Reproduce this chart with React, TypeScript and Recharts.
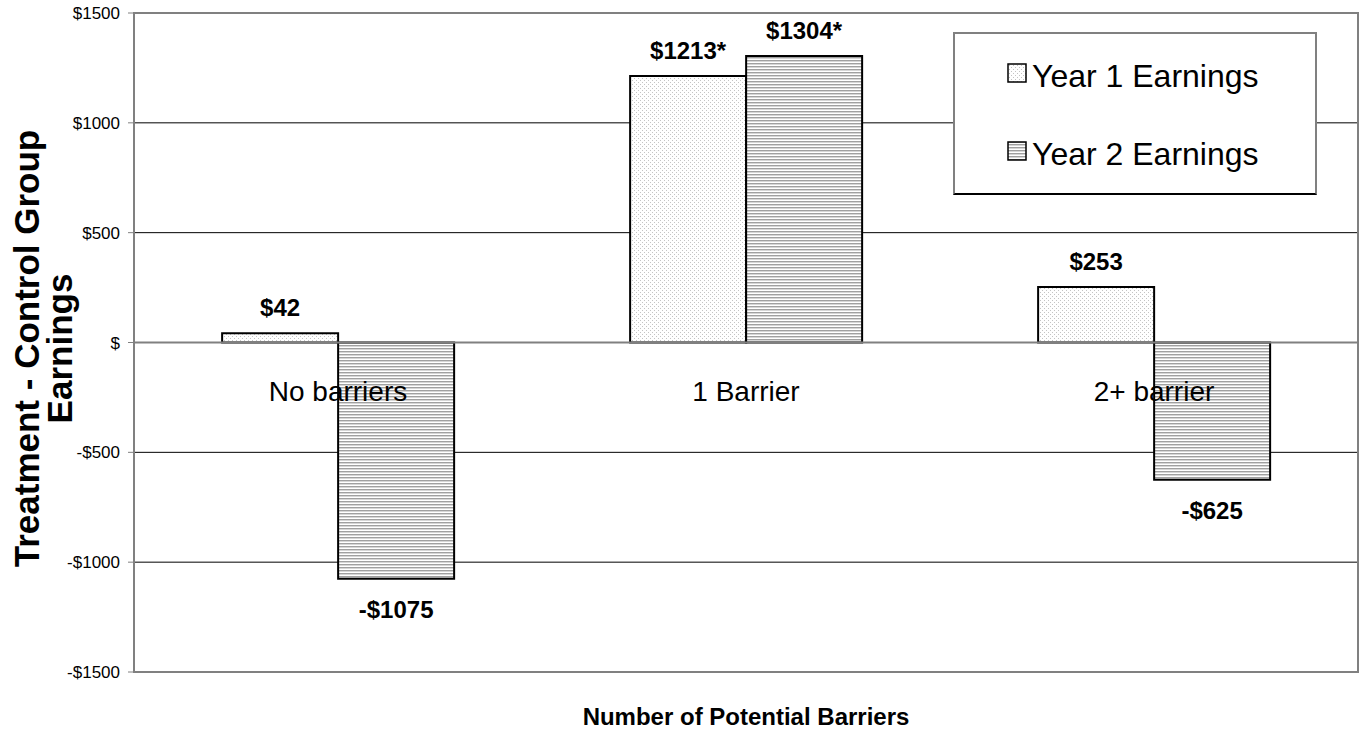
import {
  BarChart, Bar, XAxis, YAxis, CartesianGrid, ReferenceLine, ReferenceArea, ReferenceDot, LabelList,
} from 'recharts'

const categories = ['No barriers', '1 Barrier', '2+ barrier']
const year1Earnings = [42, 1213, 253]
const year2Earnings = [-1075, 1304, -625]
const year1Labels = ['$42', '$1213*', '$253']
const year2Labels = ['-$1075', '$1304*', '-$625']
const yTicks = [-1500, -1000, -500, 0, 500, 1000, 1500]
const yTickLabels = ['-$1500', '-$1000', '-$500', '$', '$500', '$1000', '$1500']
const seriesNames = ['Year 1 Earnings', 'Year 2 Earnings']

const FONT = "'Liberation Sans', Arial, Helvetica, sans-serif"

const data = categories.map((c, i) => ({
  category: c,
  y1: year1Earnings[i],
  y2: year2Earnings[i],
  l1: year1Labels[i],
  l2: year2Labels[i],
}))

function BarValueLabel(props: any) {
  const vb = props.viewBox ?? props
  const { x, y, width, height } = vb
  const top = Math.min(y, y + height)
  const bottom = Math.max(y, y + height)
  const negative = String(props.value).startsWith('-')
  return (
    <text
      x={x + width / 2}
      y={negative ? bottom + 39 : top - 17}
      textAnchor="middle"
      fontFamily={FONT}
      fontSize={24}
      fontWeight="bold"
      fill="#000"
    >
      {props.value}
    </text>
  )
}

function CategoryLabel(props: any) {
  const vb = props.viewBox
  const cx = vb.x + vb.width / 2
  const cy = vb.y + vb.height / 2
  return (
    <g>
      <text x={cx} y={cy + 58} textAnchor="middle" fontFamily={FONT} fontSize={28} fill="#000">
        {props.value}
      </text>
    </g>
  )
}

function YTitle(props: any) {
  const vb = props.viewBox
  const cy = vb.y + vb.height / 2 + 6
  return (
    <g fontFamily={FONT} fontSize={35} fontWeight="bold" fill="#000">
      <text x={39} y={cy} textAnchor="middle" transform={`rotate(-90, 39, ${cy})`}>
        Treatment - Control Group
      </text>
      <text x={72} y={cy} textAnchor="middle" transform={`rotate(-90, 72, ${cy})`}>
        Earnings
      </text>
    </g>
  )
}

function XTitle(props: any) {
  const vb = props.viewBox
  return (
    <text
      x={vb.x + vb.width / 2}
      y={vb.y + 53}
      textAnchor="middle"
      fontFamily={FONT}
      fontSize={24}
      fontWeight="bold"
      fill="#000"
    >
      Number of Potential Barriers
    </text>
  )
}

function LegendBox() {
  const fills = ['url(#dots)', 'url(#stripes)']
  return (
    <div
      style={{
        position: 'absolute', left: 953, top: 32, width: 364, height: 163,
        boxSizing: 'border-box', background: '#fff',
        borderTop: '2px solid #808080', borderLeft: '2px solid #808080',
        borderRight: '2px solid #808080', borderBottom: '2px solid #000',
        fontFamily: FONT,
      }}
    >
      {seriesNames.map((name, i) => (
        <div
          key={name}
          style={{
            position: 'absolute', left: 52, top: i === 0 ? 23 : 101, height: 38,
            display: 'flex', alignItems: 'center',
          }}
        >
          <svg width={20} height={20} style={{ marginRight: 5, marginTop: -6 }}>
            <rect x={1} y={1} width={18} height={18} fill={fills[i]} stroke="#000" strokeWidth={1.5} />
          </svg>
          <span style={{ fontSize: 32, color: '#000', lineHeight: '38px' }}>{name}</span>
        </div>
      ))}
    </div>
  )
}

export default function App() {
  return (
    <div style={{ position: 'absolute', left: 0, top: 0, width: 1366, height: 734, background: '#fff' }}>
      <svg width={0} height={0} style={{ position: 'absolute' }}>
        <defs>
          <pattern id="dots" patternUnits="userSpaceOnUse" width={4} height={4}>
            <rect width={4} height={4} fill="#fff" />
            <rect x={0} y={0} width={1} height={1} fill="#c4c4c4" />
            <rect x={2} y={2} width={1} height={1} fill="#c4c4c4" />
          </pattern>
          <pattern id="stripes" patternUnits="userSpaceOnUse" width={4} height={3}>
            <rect width={4} height={3} fill="#fff" />
            <rect x={0} y={0} width={4} height={1} fill="#a0a0a0" />
            <rect x={0} y={1} width={4} height={1} fill="#d6d6d6" />
          </pattern>
        </defs>
      </svg>
      <BarChart
        width={1366}
        height={734}
        data={data}
        margin={{ top: 13, right: 8, bottom: 0, left: 0 }}
        barCategoryGap="21.6%"
        barGap={0}
      >
        <CartesianGrid horizontal vertical={false} stroke="#000" strokeWidth={1} />
        <ReferenceArea y1={-1500} y2={1500} fill="none" stroke="#808080" strokeWidth={2} />
        <XAxis
          dataKey="category"
          height={62}
          tick={false}
          tickLine={false}
          axisLine={false}
          label={<XTitle />}
        />
        <YAxis
          width={134}
          domain={[-1500, 1500]}
          ticks={yTicks}
          interval={0}
          tickFormatter={(v: number) => yTickLabels[yTicks.indexOf(v)]}
          tick={{ fontSize: 17, fill: '#000', fontFamily: FONT }}
          tickSize={6}
          tickMargin={8}
          tickLine={{ stroke: '#808080' }}
          axisLine={{ stroke: '#808080', strokeWidth: 2 }}
          label={<YTitle />}
        />
        <Bar dataKey="y1" name={seriesNames[0]} fill="url(#dots)" stroke="#000" strokeWidth={2} isAnimationActive={false}>
          <LabelList dataKey="l1" content={<BarValueLabel />} />
        </Bar>
        <Bar dataKey="y2" name={seriesNames[1]} fill="url(#stripes)" stroke="#000" strokeWidth={2} isAnimationActive={false}>
          <LabelList dataKey="l2" content={<BarValueLabel />} />
        </Bar>
        <ReferenceLine y={0} stroke="#808080" strokeWidth={2} />
        {categories.map((c) => (
          <ReferenceDot
            key={c}
            x={c}
            y={0}
            r={1}
            fill="none"
            stroke="none"
            label={<CategoryLabel value={c} />}
          />
        ))}
      </BarChart>
      <LegendBox />
    </div>
  )
}
